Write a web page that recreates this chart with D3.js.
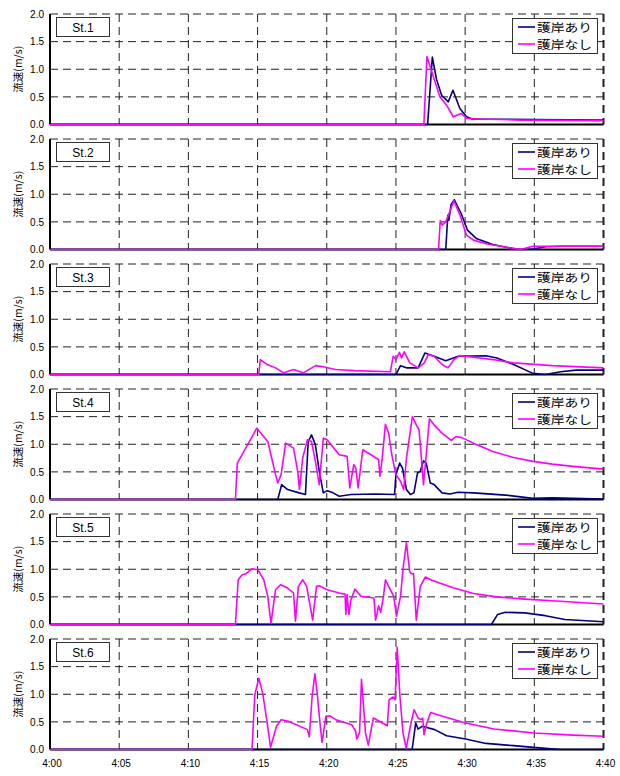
<!DOCTYPE html>
<html>
<head>
<meta charset="utf-8">
<script src="https://cdn.jsdelivr.net/npm/d3@7"></script>
<style>
  html, body { margin: 0; padding: 0; background: #fff; }
  svg { display: block; }
  text { font-family: "Liberation Sans", Arial, sans-serif; }
  .jp { font-family: "Noto Sans CJK JP", "Noto Sans CJK SC", sans-serif; }
</style>
</head>
<body>
<div id="chart"></div>
<script>
// Station names (one panel each)
const stations = ["St.1", "St.2", "St.3", "St.4", "St.5", "St.6"];
const seriesNames = ["護岸あり", "護岸なし"];
const seriesColors = ["#000080", "#ff00ff"];

// Time axis: minutes after 4:00
const xTickValues = [0, 5, 10, 15, 20, 25, 30, 35, 40];
const xTickLabels = ["4:00", "4:05", "4:10", "4:15", "4:20", "4:25", "4:30", "4:35", "4:40"];
const yTickValues = [0, 0.5, 1.0, 1.5, 2.0];
const yLabel = "流速(m/s)";

// Velocity records [minute, m/s] — with revetment (護岸あり)
const st1Ari = [[0,0],[27.29,0],[27.63,1.22],[27.94,0.81],[28.3,0.53],[28.78,0.41],[29.12,0.62],[29.62,0.29],[30.1,0.14],[30.5,0.1],[35,0.09],[40,0.08]];
const st2Ari = [[0,0],[28.6,0],[28.75,0.62],[28.83,0.53],[28.98,0.81],[29.22,0.9],[29.7,0.66],[30.17,0.35],[30.8,0.2],[32,0.09],[33.4,0.02],[33.9,0],[34.9,0.01],[35.8,0.05],[37,0.06],[40,0.06]];
const st3Ari = [[0,0],[25,0],[25.33,0.16],[25.76,0.12],[26.6,0.12],[27.1,0.39],[27.76,0.33],[28.6,0.25],[29.5,0.33],[31.5,0.34],[32.3,0.3],[33.5,0.18],[34.9,0.02],[35.8,0],[36.9,0.05],[38,0.08],[40,0.08]];
const st4Ari = [[0,0],[16.46,0],[16.74,0.27],[17.17,0.18],[18,0.12],[18.46,0.09],[18.66,1.05],[18.9,1.17],[19.18,0.99],[19.46,0.51],[19.75,0.12],[20.03,0.16],[20.46,0.12],[20.9,0.06],[21.75,0.09],[23.5,0.1],[24.9,0.09],[25,0.45],[25.27,0.66],[25.47,0.57],[25.76,0.18],[26.04,0.09],[26.3,0.12],[26.56,0.48],[26.76,0.51],[26.99,0.7],[27.19,0.66],[27.48,0.3],[27.76,0.27],[28.33,0.12],[28.9,0.1],[29.48,0.13],[30.6,0.12],[32.9,0.08],[34.9,0.02],[36.3,0.03],[40,0.01]];
const st5Ari = [[0,0],[31.9,0],[32.34,0.18],[32.9,0.22],[34.3,0.21],[35.8,0.16],[37.2,0.09],[40,0.05]];
const st6Ari = [[0,0],[26.17,0],[26.43,0.48],[26.6,0.37],[26.89,0.42],[27.23,0.4],[27.8,0.36],[28.66,0.25],[30.03,0.19],[31.5,0.11],[33.5,0.07],[35.8,0.02],[36.9,0],[40,0]];

// Velocity records [minute, m/s] — without revetment (護岸なし)
const st1Nashi = [[0,0],[27.02,0],[27.24,1.23],[27.7,0.87],[28.18,0.5],[28.66,0.35],[29.14,0.14],[29.72,0.2],[30.1,0.11],[31,0.1],[34,0.08],[40,0.07]];
const st2Nashi = [[0,0],[28.08,0],[28.2,0.52],[28.35,0.44],[28.6,0.5],[29.19,0.88],[29.63,0.62],[30.1,0.26],[30.6,0.17],[31.6,0.1],[33,0.04],[34,0],[34.9,0.06],[40,0.06]];
const st3Nashi = [[0,0],[15.08,0],[15.2,0.27],[15.7,0.18],[16.3,0.12],[16.9,0.03],[17.6,0.09],[18.3,0.03],[19.2,0.16],[19.75,0.14],[20.6,0.09],[22,0.07],[24.6,0.05],[24.8,0.33],[25.0,0.27],[25.25,0.4],[25.4,0.3],[25.6,0.41],[26,0.21],[26.6,0.12],[27.05,0.21],[27.33,0.36],[27.76,0.33],[28.33,0.18],[28.76,0.12],[29.2,0.27],[29.6,0.34],[30.3,0.32],[32,0.27],[33.5,0.21],[36.3,0.16],[40,0.12]];
const st4Nashi = [[0,0],[13.4,0],[13.54,0.66],[14.94,1.29],[15.74,1.05],[16.3,0.45],[16.46,0.3],[16.7,0.45],[17.03,1.02],[17.6,0.93],[17.9,0.51],[18.03,0.18],[18.26,0.75],[18.6,1.08],[18.9,1.05],[19.18,0.69],[19.46,0.27],[19.75,1.11],[20.03,1.08],[20.9,0.81],[21.47,0.78],[21.67,0.21],[21.95,0.63],[22.1,0.57],[22.27,0.21],[22.6,0.9],[23.2,0.81],[23.75,0.72],[23.84,0.42],[24,0.72],[24.24,1.36],[24.47,1.2],[24.7,0.81],[25,0.45],[25.33,0.33],[25.56,0.18],[25.76,0.75],[26.19,1.5],[26.47,1.35],[26.67,1.26],[26.84,0.75],[26.99,0.27],[27.19,0.81],[27.42,1.46],[27.76,1.35],[28.33,1.2],[29,1.07],[29.33,1.14],[29.77,1.12],[30.6,1.02],[32,0.87],[33.5,0.76],[34.9,0.69],[36.3,0.64],[37.8,0.6],[40,0.55]];
const st5Nashi = [[0,0],[13.4,0],[13.6,0.81],[13.88,0.9],[14.17,0.92],[14.6,1.01],[15.03,0.99],[15.45,0.81],[15.74,0.51],[15.97,0.02],[16.3,0.63],[16.66,0.72],[17.17,0.66],[17.6,0.57],[17.74,0.06],[17.95,0.69],[18.26,0.81],[18.55,0.69],[18.98,0.08],[19.26,0.69],[19.46,0.7],[20.03,0.63],[20.9,0.57],[21.32,0.55],[21.38,0.18],[21.47,0.54],[21.6,0.18],[21.75,0.45],[22.04,0.64],[22.47,0.51],[23.18,0.49],[23.41,0.48],[23.53,0.08],[23.75,0.34],[23.9,0.22],[24.1,0.51],[24.24,0.81],[24.47,0.69],[24.84,0.51],[25.04,0.15],[25.33,0.51],[25.53,1.05],[25.76,1.48],[25.99,0.96],[26.1,0.92],[26.27,0.92],[26.47,0.08],[26.76,0.69],[27.13,0.86],[27.6,0.8],[28.05,0.76],[29.2,0.66],[30.6,0.56],[32.3,0.5],[34.3,0.46],[36.3,0.43],[40,0.37]];
const st6Nashi = [[0,0],[14.6,0],[14.8,0.99],[15.09,1.29],[15.37,1.02],[15.66,0.54],[15.94,0.04],[16.37,0.42],[16.71,0.54],[17.23,0.51],[18.6,0.36],[18.74,0.23],[18.94,0.95],[19.14,1.37],[19.31,1.02],[19.51,0.48],[19.66,0.13],[19.94,0.6],[20.23,0.61],[20.66,0.54],[21.8,0.45],[22.09,0.33],[22.17,0.19],[22.37,0.3],[22.51,1.27],[22.66,0.78],[22.8,0.3],[23,0.08],[23.37,0.57],[23.8,0.51],[24.37,0.43],[24.51,0.9],[24.8,0.95],[24.94,0.9],[25.09,1.85],[25.29,0.96],[25.51,0.3],[25.74,0.02],[26.09,0.48],[26.31,0.72],[26.6,0.57],[26.8,0.54],[26.94,0.57],[27.03,0.27],[27.23,0.48],[27.51,0.67],[28.37,0.6],[30.03,0.48],[32.09,0.37],[35,0.3],[37.8,0.26],[40,0.24]];

const withRevetment = [st1Ari, st2Ari, st3Ari, st4Ari, st5Ari, st6Ari];
const withoutRevetment = [st1Nashi, st2Nashi, st3Nashi, st4Nashi, st5Nashi, st6Nashi];

const W = 620, H = 776;
const left = 50, right = 603.5;
const panelTop0 = 14, panelStep = 125, panelH = 110.5;

const svg = d3.select("#chart").append("svg")
  .attr("width", W).attr("height", H);

const x = d3.scaleLinear().domain([0, 40]).range([left, right]);

stations.forEach((name, i) => {
  const top = panelTop0 + i * panelStep;
  const y = d3.scaleLinear().domain([0, 2]).range([top + panelH, top]);
  const g = svg.append("g");

  // clip region for the series
  const clipId = "clip" + i;
  svg.append("clipPath").attr("id", clipId)
    .append("rect").attr("x", left).attr("y", top - 1)
    .attr("width", right - left + 1).attr("height", panelH + 2);

  // horizontal dashed grid
  g.append("g").selectAll("line").data(yTickValues.filter(v => v > 0))
    .join("line")
    .attr("x1", left).attr("x2", right)
    .attr("y1", d => y(d)).attr("y2", d => y(d))
    .attr("stroke", "#222").attr("stroke-width", 1)
    .attr("stroke-dasharray", "8,5");

  // vertical dashed grid
  g.append("g").selectAll("line").data(xTickValues.filter(v => v > 0))
    .join("line")
    .attr("x1", d => x(d)).attr("x2", d => x(d))
    .attr("y1", top).attr("y2", top + panelH)
    .attr("stroke", "#222").attr("stroke-width", d => d === 40 ? 2 : 1)
    .attr("stroke-dasharray", "8,5");

  // left and bottom axis lines
  g.append("line").attr("x1", left).attr("x2", left)
    .attr("y1", top).attr("y2", top + panelH)
    .attr("stroke", "#000").attr("stroke-width", 2);
  g.append("line").attr("x1", left).attr("x2", right)
    .attr("y1", top + panelH).attr("y2", top + panelH)
    .attr("stroke", "#000").attr("stroke-width", 2);

  // y axis
  const yAxis = d3.axisLeft(y).tickValues(yTickValues)
    .tickFormat(d3.format(".1f")).tickSize(0).tickPadding(6);
  const ya = g.append("g").attr("transform", `translate(${left},0)`).call(yAxis);
  ya.select(".domain").remove();
  ya.selectAll("text").attr("font-size", 10).attr("fill", "#000")
    .attr("font-family", "'Liberation Sans', Arial, sans-serif");

  // y axis title
  g.append("text").attr("class", "jp")
    .attr("transform", `translate(22,${top + panelH / 2}) rotate(-90)`)
    .attr("text-anchor", "middle").attr("font-size", 10.5)
    .attr("fill", "#000").text(yLabel);

  // series lines
  const line = d3.line().x(d => x(d[0])).y(d => y(d[1]));
  const lg = g.append("g").attr("clip-path", `url(#${clipId})`);
  [withRevetment[i], withoutRevetment[i]].forEach((data, k) => {
    lg.append("path").datum(data)
      .attr("d", line).attr("fill", "none")
      .attr("stroke", seriesColors[k]).attr("stroke-width", 1.6)
      .attr("stroke-linejoin", "round");
  });

  // station label box
  const sb = g.append("g").attr("transform", `translate(56,${top + 3})`);
  sb.append("rect").attr("x", 0.5).attr("y", 0.5).attr("width", 53).attr("height", 19)
    .attr("fill", "#fff").attr("stroke", "#333").attr("stroke-width", 1);
  sb.append("text").attr("x", 27).attr("y", 14.5).attr("text-anchor", "middle")
    .attr("font-size", 12).attr("fill", "#000").text(name);

  // legend
  const lgd = g.append("g").attr("transform", `translate(512,${top + 4})`);
  lgd.append("rect").attr("x", 0.5).attr("y", 0.5).attr("width", 85).attr("height", 35)
    .attr("fill", "#fff").attr("stroke", "#333").attr("stroke-width", 1);
  seriesNames.forEach((s, k) => {
    const cy = 9 + k * 17;
    lgd.append("line").attr("x1", 6).attr("x2", 23).attr("y1", cy).attr("y2", cy)
      .attr("stroke", seriesColors[k]).attr("stroke-width", 1.6);
    lgd.append("text").attr("class", "jp").attr("x", 25).attr("y", cy + 4.5)
      .attr("font-size", 11.5).attr("fill", "#000")
      .attr("textLength", 55).attr("lengthAdjust", "spacingAndGlyphs")
      .text(s);
  });

  // x labels only on the bottom panel
  if (i === stations.length - 1) {
    g.append("g").selectAll("text").data(xTickValues).join("text")
      .attr("x", (d) => x(d) + 2).attr("y", top + panelH + 17)
      .attr("text-anchor", "middle").attr("font-size", 10).attr("fill", "#000")
      .text((d, j) => xTickLabels[j]);
  }
});
</script>
</body>
</html>
